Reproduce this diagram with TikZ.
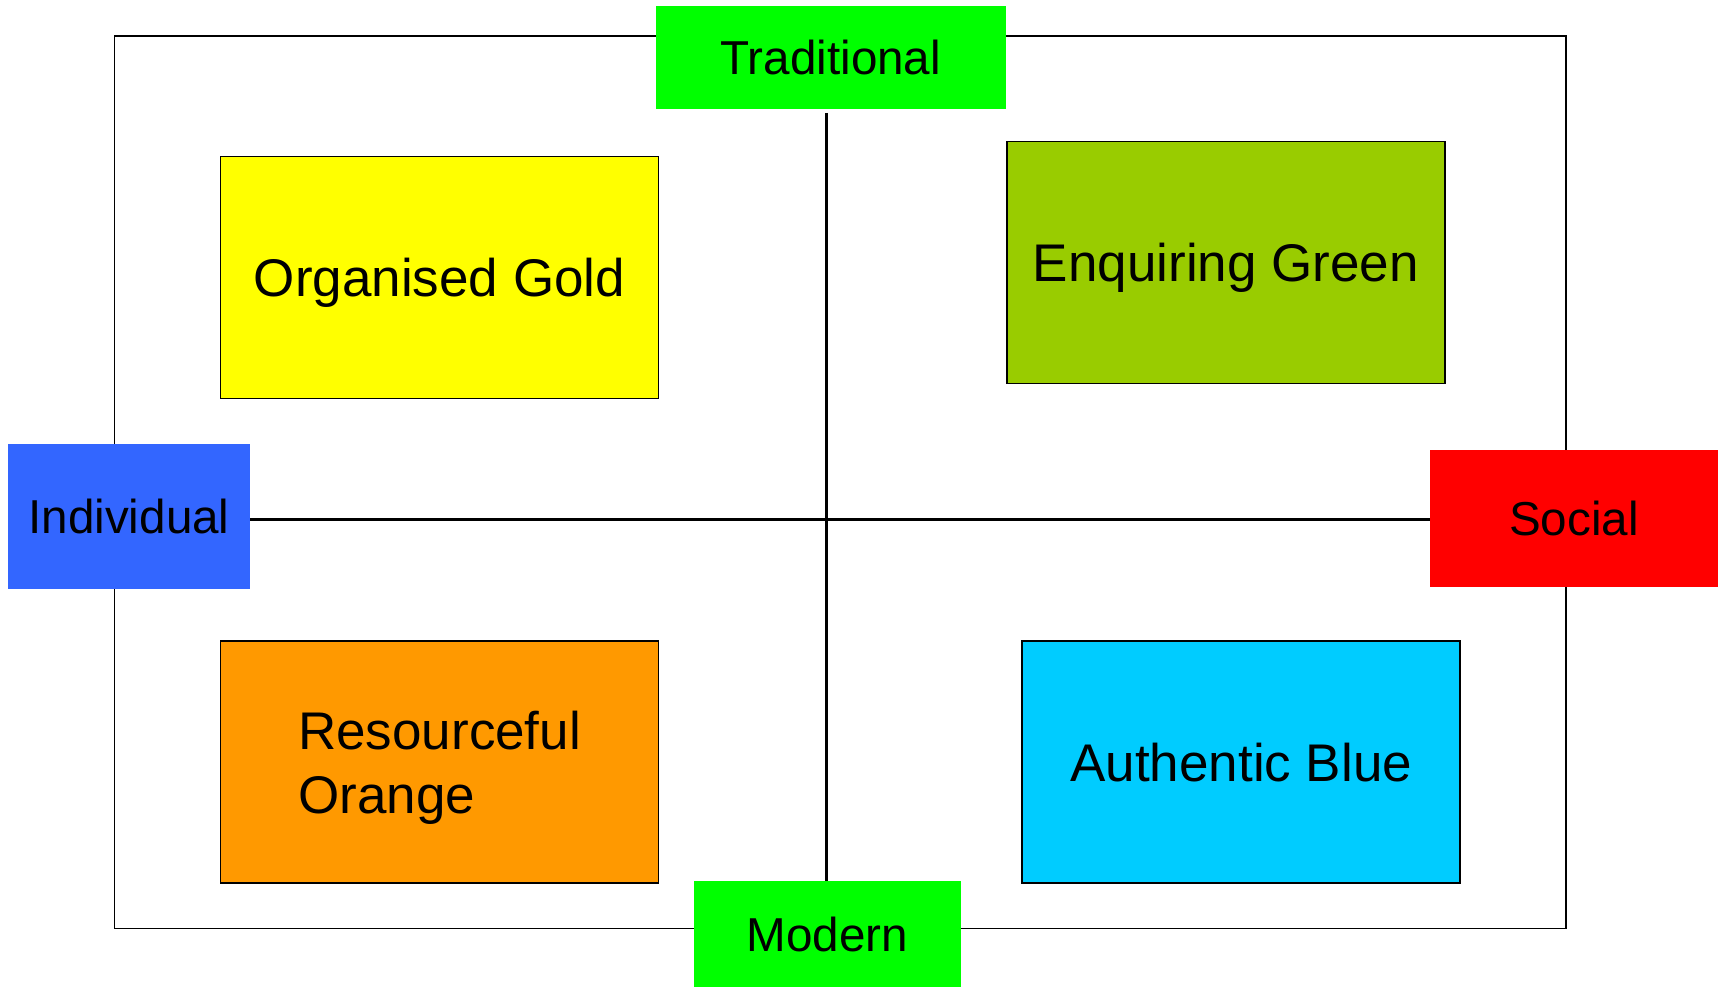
\documentclass[tikz,border=0pt]{standalone}
\usepackage{fontspec}
\setmainfont{Liberation Sans}
\definecolor{cgold}{HTML}{FFFF00}
\definecolor{cgreen}{HTML}{99CC00}
\definecolor{corange}{HTML}{FF9900}
\definecolor{cblue}{HTML}{00CCFF}
\definecolor{cindiv}{HTML}{3366FF}
\definecolor{csocial}{HTML}{FF0000}
\definecolor{clime}{HTML}{00FF00}
\begin{document}
\begin{tikzpicture}[x=0.5pt,y=-0.5pt,
  quad/.style={draw=black,line width=0.8pt,minimum width=219pt,minimum height=121pt,inner sep=0pt,
    font=\fontsize{26.5}{32}\selectfont,align=left,text depth=0pt},
  axislabel/.style={inner sep=0pt,font=\fontsize{23.8}{28}\selectfont},
  frame/.style={draw=black,line width=0.8pt},
  axis/.style={draw=black,line width=1.5pt}]
\useasboundingbox (0,0) rectangle (1723,987);
\draw[frame] (114.3,36) rectangle (1565.7,928.3);
\coordinate (c) at (826.7,519);
% quadrant boxes
\node[quad,fill=cgold] (gold) at (439.5,277.5) {Organised Gold};
\node[quad,fill=cgreen] (green) at (1225.8,262.6) {Enquiring Green};
\node[quad,fill=corange] (orange) at (439.6,761.8) {Resourceful\\Orange};
\node[quad,fill=cblue] (blue) at (1241.2,761.8) {Authentic Blue};
% axis labels
\node[axislabel,fill=clime,minimum width=174.9pt,minimum height=51.7pt] (trad) at (830.8,57.7) {Traditional};
\node[axislabel,fill=clime,minimum width=133.5pt,minimum height=53pt] (mod) at (827.5,934) {Modern};
\node[axislabel,fill=cindiv,minimum width=121pt,minimum height=72.7pt] (ind) at (129,516.7) {Individual};
\node[axislabel,fill=csocial,minimum width=144pt,minimum height=68.4pt] (soc) at (1574,518.3) {Social};
% axes
\draw[axis] ([yshift=-1.5pt]trad.south -| c) -- (mod.north -| c);
\draw[axis] (ind.east |- c) -- (soc.west |- c);
\end{tikzpicture}
\end{document}
